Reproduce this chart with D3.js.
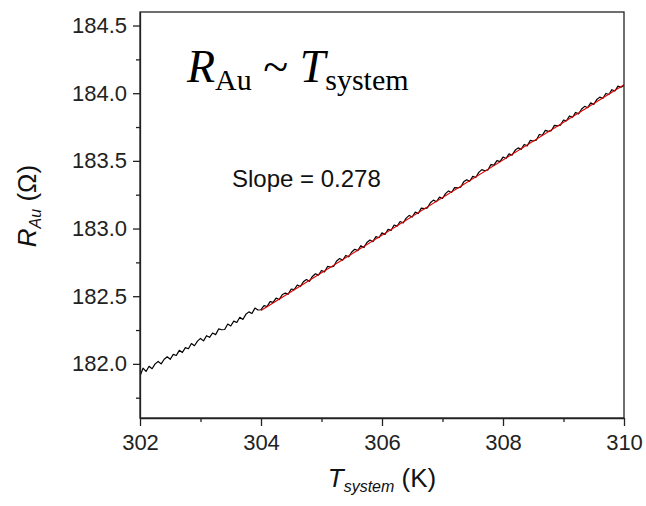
<!DOCTYPE html>
<html>
<head>
<meta charset="utf-8">
<script src="https://cdn.jsdelivr.net/npm/d3@7"></script>
<style>
  html, body { margin: 0; padding: 0; background: #fff; }
  svg { display: block; }
</style>
</head>
<body>
<svg id="chart" width="646" height="506"></svg>
<script>
// ---- data ----
const tStart = 302, tStep = 0.05;           // sampling grid of the measurement (K)
const rAu = [
  181.910,181.968,181.944,181.982,181.964,182.000,182.018,182.000,182.034,182.052,
  182.034,182.070,182.062,182.100,182.084,182.120,182.112,182.150,182.134,182.168,
  182.188,182.170,182.208,182.196,182.228,182.216,182.258,182.252,182.254,182.294,
  182.280,182.316,182.306,182.344,182.328,182.366,182.384,182.372,182.412,182.398,
  182.400,182.430,182.424,182.460,182.454,182.486,182.475,182.511,182.523,182.515,
  182.553,182.549,182.583,182.571,182.607,182.623,182.610,182.646,182.666,182.656,
  182.690,182.680,182.720,182.716,182.720,182.760,182.778,182.766,182.801,182.791,
  182.827,182.847,182.837,182.873,182.859,182.897,182.915,182.903,182.940,182.932,
  182.968,182.956,182.994,182.986,183.026,183.018,183.052,183.041,183.077,183.097,
  183.085,183.121,183.111,183.151,183.147,183.153,183.191,183.210,183.198,183.232,
  183.222,183.258,183.278,183.266,183.302,183.300,183.305,183.345,183.361,183.349,
  183.385,183.377,183.415,183.435,183.427,183.433,183.472,183.468,183.502,183.494,
  183.528,183.518,183.552,183.542,183.578,183.596,183.585,183.621,183.611,183.651,
  183.647,183.653,183.695,183.689,183.725,183.718,183.724,183.762,183.758,183.764,
  183.802,183.796,183.832,183.822,183.858,183.847,183.883,183.903,183.893,183.929,
  183.917,183.953,183.971,183.961,183.998,183.990,184.026,184.016,184.052,184.044,
  184.056
];
const fitT = [304, 310];
const fitR = [182.395, 184.063];
const xMajorTicks = [302, 304, 306, 308, 310];
const xMinorTicks = [303, 305, 307, 309];
const yMajorTicks = [182.0, 182.5, 183.0, 183.5, 184.0, 184.5];
const yMinorTicks = [181.75, 182.25, 182.75, 183.25, 183.75, 184.25];
const xDomain = [302, 310];
const yDomain = [181.6, 184.6];
const slopeText = "Slope = 0.278";

// ---- layout ----
const svg = d3.select("#chart");
const L = 140, R = 624, T = 12, B = 418;
const x = d3.scaleLinear().domain(xDomain).range([L, R]);
const y = d3.scaleLinear().domain(yDomain).range([B, T]);
const sans = "'Liberation Sans', Arial, sans-serif";
const serif = "'Liberation Serif', 'Times New Roman', serif";
const axisColor = "#222";

const series = rAu.map((r, i) => ({ t: tStart + i * tStep, r }));

// data lines
const clipId = "plotclip";
svg.append("clipPath").attr("id", clipId)
  .append("rect").attr("x", L).attr("y", T).attr("width", R - L).attr("height", B - T);

const line = d3.line().x(d => x(d.t)).y(d => y(d.r));
svg.append("path")
  .datum(series)
  .attr("clip-path", `url(#${clipId})`)
  .attr("d", line)
  .attr("fill", "none")
  .attr("stroke", "#000")
  .attr("stroke-width", 1.2)
  .attr("stroke-linejoin", "round");

svg.append("path")
  .datum(fitT.map((t, i) => ({ t, r: fitR[i] })))
  .attr("d", line)
  .attr("fill", "none")
  .attr("stroke", "#e00000")
  .attr("stroke-width", 1.1);

// axes
function styleAxis(g) {
  g.select(".domain").attr("stroke", axisColor).attr("stroke-width", 1.3);
  g.selectAll(".tick line").attr("stroke", axisColor).attr("stroke-width", 1.3);
  g.selectAll(".tick text").attr("fill", "#222").attr("font-family", sans).attr("font-size", 22);
}

const xAxis = svg.append("g").attr("transform", `translate(0,${B})`)
  .call(d3.axisBottom(x).tickValues(xMajorTicks).tickFormat(d3.format("d")).tickSize(8).tickPadding(8).tickSizeOuter(0));
styleAxis(xAxis);
const xMinor = svg.append("g").attr("transform", `translate(0,${B})`)
  .call(d3.axisBottom(x).tickValues(xMinorTicks).tickFormat("").tickSize(4).tickSizeOuter(0));
styleAxis(xMinor);
xMinor.select(".domain").remove();

const yAxis = svg.append("g").attr("transform", `translate(${L},0)`)
  .call(d3.axisLeft(y).tickValues(yMajorTicks).tickFormat(d3.format(".1f")).tickSize(7).tickPadding(6).tickSizeOuter(0));
styleAxis(yAxis);
const yMinor = svg.append("g").attr("transform", `translate(${L},0)`)
  .call(d3.axisLeft(y).tickValues(yMinorTicks).tickFormat("").tickSize(4).tickSizeOuter(0));
styleAxis(yMinor);
yMinor.select(".domain").remove();

// frame
svg.append("rect")
  .attr("x", L).attr("y", T).attr("width", R - L).attr("height", B - T)
  .attr("fill", "none").attr("stroke", axisColor).attr("stroke-width", 1.3);

// title formula
const title = svg.append("text")
  .attr("x", 187).attr("y", 82)
  .attr("font-family", serif).attr("font-size", 46).attr("fill", "#000");
title.append("tspan").attr("font-style", "italic").text("R");
title.append("tspan").attr("font-size", 30).attr("dy", 8).text("Au");
title.append("tspan").attr("dy", -8).text("\u00A0~\u00A0");
title.append("tspan").attr("font-style", "italic").text("T");
title.append("tspan").attr("font-size", 30).attr("dy", 8).text("system");

// slope annotation
svg.append("text")
  .attr("x", 232).attr("y", 187)
  .attr("font-family", sans).attr("font-size", 24).attr("fill", "#111")
  .text(slopeText);

// x label
const xl = svg.append("text")
  .attr("x", (L + R) / 2).attr("y", 487).attr("text-anchor", "middle")
  .attr("font-family", sans).attr("font-size", 26).attr("fill", "#111");
xl.append("tspan").attr("font-style", "italic").text("T");
xl.append("tspan").attr("font-style", "italic").attr("font-size", 16).attr("dy", 5).text("system");
xl.append("tspan").attr("dy", -5).text("\u00A0(K)");

// y label
const yl = svg.append("text")
  .attr("transform", `translate(36,${206}) rotate(-90)`).attr("text-anchor", "middle")
  .attr("font-family", sans).attr("font-size", 26).attr("fill", "#111");
yl.append("tspan").attr("font-style", "italic").text("R");
yl.append("tspan").attr("font-style", "italic").attr("font-size", 16).attr("dy", 5).text("Au");
yl.append("tspan").attr("dy", -5).text("\u00A0(\u03A9)");
</script>
</body>
</html>
